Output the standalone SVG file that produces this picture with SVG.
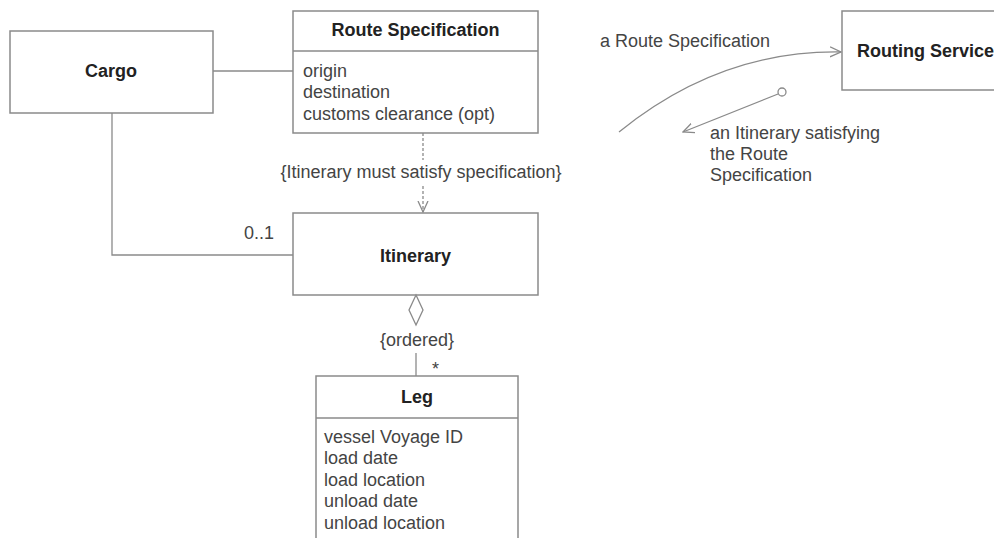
<svg xmlns="http://www.w3.org/2000/svg" width="994" height="538" viewBox="0 0 994 538">
<style>
.box{fill:#fff;stroke:#8a8a8a;stroke-width:1.5}
.ln{fill:none;stroke:#8a8a8a;stroke-width:1.3}
.t{font-family:"Liberation Sans",Arial,sans-serif;font-size:18px;fill:#444}
.b{font-family:"Liberation Sans",Arial,sans-serif;font-size:18px;font-weight:bold;fill:#222;text-anchor:middle}
.s{text-anchor:start}
.m{text-anchor:middle}
</style>
<defs>
<marker id="open" viewBox="0 0 12 12" refX="11" refY="6" markerWidth="12" markerHeight="12" markerUnits="userSpaceOnUse" orient="auto">
<path d="M0,1 L11,6 L0,11" fill="none" stroke="#8a8a8a" stroke-width="1.3"/>
</marker>
</defs>
<g id="cargo">
<rect class="box" x="10" y="31" width="203" height="82"/>
<text class="b" x="111" y="77">Cargo</text>
</g>
<g id="route-specification">
<rect class="box" x="293" y="11" width="245" height="122"/>
<line class="ln" x1="293" y1="51" x2="538" y2="51"/>
<text class="b" x="415.5" y="36">Route Specification</text>
<text class="t" x="303" y="77">origin</text>
<text class="t" x="303" y="98">destination</text>
<text class="t" x="303" y="120">customs clearance (opt)</text>
</g>
<g id="itinerary">
<rect class="box" x="293" y="213" width="245" height="82"/>
<text class="b" x="415.5" y="262">Itinerary</text>
</g>
<g id="leg">
<rect class="box" x="316" y="376" width="202" height="170"/>
<line class="ln" x1="316" y1="418" x2="518" y2="418"/>
<text class="b" x="417" y="403">Leg</text>
<text class="t" x="324" y="443">vessel Voyage ID</text>
<text class="t" x="324" y="464">load date</text>
<text class="t" x="324" y="486">load location</text>
<text class="t" x="324" y="507">unload date</text>
<text class="t" x="324" y="529">unload location</text>
</g>
<g id="routing-service">
<rect class="box" x="842" y="11" width="160" height="79"/>
<text class="b s" x="857" y="57">Routing Service</text>
</g>
<g id="connectors">
<line class="ln" x1="213" y1="71" x2="293" y2="71"/>
<polyline class="ln" points="112,113 112,255 293,255"/>
<line class="ln" x1="423" y1="133" x2="423" y2="160" stroke-dasharray="3,2"/>
<line class="ln" x1="423" y1="186" x2="423" y2="212" stroke-dasharray="3,2" marker-end="url(#open)"/>
<polygon points="416,295 423,310 416,325 409,310" fill="#fff" stroke="#8a8a8a" stroke-width="1.3"/>
<line class="ln" x1="416" y1="353" x2="416" y2="376"/>
<path class="ln" d="M619,132 Q720,50 841,52" marker-end="url(#open)"/>
<circle cx="782" cy="92" r="4" fill="#fff" stroke="#8a8a8a" stroke-width="1.3"/>
<line class="ln" x1="778" y1="94" x2="683" y2="132" marker-end="url(#open)"/>
<text class="t" x="244" y="239">0..1</text>
<text class="t m" x="421" y="178">{Itinerary must satisfy specification}</text>
<text class="t m" x="417" y="346">{ordered}</text>
<text class="t" x="432" y="375">*</text>
<text class="t" x="600" y="47">a Route Specification</text>
<text class="t" x="710" y="139">an Itinerary satisfying</text>
<text class="t" x="710" y="160">the Route</text>
<text class="t" x="710" y="181">Specification</text>
</g>
</svg>
